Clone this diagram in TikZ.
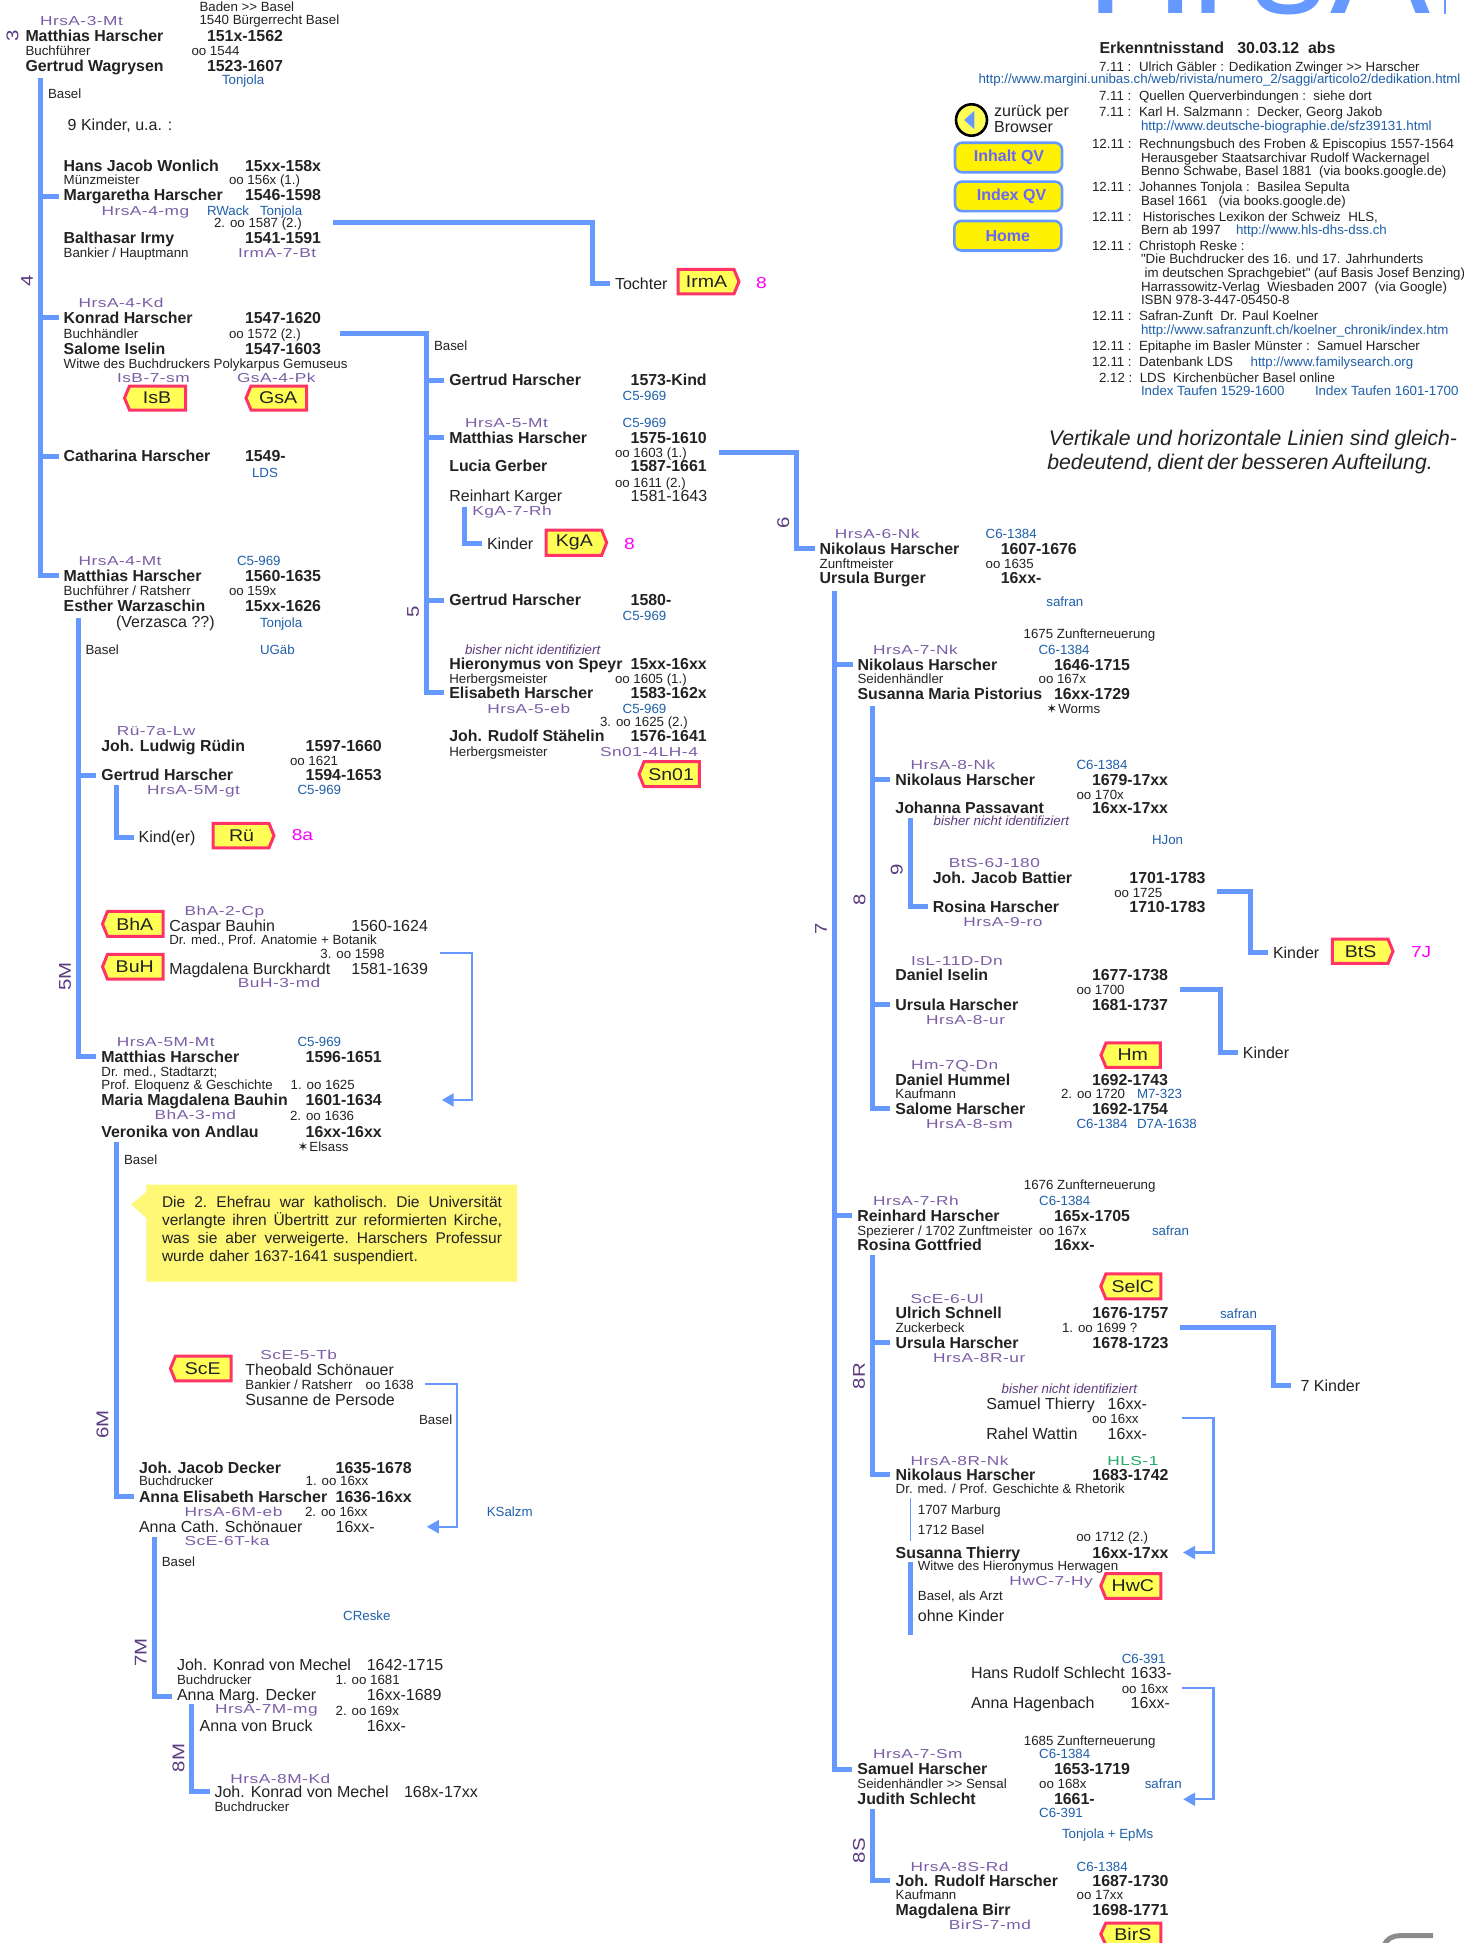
\documentclass[tikz,border=0pt]{standalone}
\usepackage{fontspec}
\setmainfont{Liberation Sans}
\newfontfamily\codefnt[FakeStretch=1.33,LetterSpace=4]{Liberation Sans}
\newfontfamily\rotfnt[FakeStretch=1.2]{Liberation Sans}
\newfontfamily\tagfnt[FakeStretch=1.15]{Liberation Sans}
\newfontfamily\djfnt{DejaVu Sans}
\newfontfamily\plainfnt{Liberation Sans}
\usetikzlibrary{arrows.meta,calc}
\definecolor{busc}{HTML}{6699FF}
\definecolor{inkc}{HTML}{222222}
\definecolor{linkc}{HTML}{1F5FAA}
\definecolor{codec}{HTML}{7B5EA7}
\definecolor{rotc}{HTML}{5B3A7E}
\definecolor{mag}{HTML}{FF00FF}
\definecolor{tagred}{HTML}{FF3366}
\definecolor{tagyel}{HTML}{FFFF55}
\definecolor{notey}{HTML}{FFF776}
\definecolor{hlsg}{HTML}{22AA66}
\definecolor{btxt}{HTML}{6666FF}
\newcount\tcnt
\newcommand\fs[1]{\fontsize{#1}{#1}\selectfont}
\tikzset{
  txt/.style={anchor=base west,inner sep=0pt,outer sep=0pt,text=inkc,yshift=-0.5pt},
  nm/.style={font=\fs{15.9}\bfseries},
  rg/.style={font=\fs{16}},
  sm/.style={font=\fs{13.3}},
  ln/.style={font=\fs{13.3},text=linkc},
  cd/.style={font=\codefnt\fs{13},text=codec},
  itp/.style={font=\fs{13.3}\itshape,text=rotc},
  mg8/.style={font=\rotfnt\fs{16},text=mag},
  rotl/.style={anchor=center,inner sep=0pt,rotate=90,font=\rotfnt\fs{17},text=rotc},
  bus/.style={draw=busc,line width=5pt,line join=miter},
  thinc/.style={draw=busc,line width=2.4pt,-{Triangle[length=12pt,width=13pt]}},
  tagb/.style={draw=tagred,fill=tagyel,line width=3pt,line join=miter},
  tagt/.style={anchor=center,inner sep=0pt,font=\tagfnt\fs{17},text=inkc},
  btn/.style={draw=busc,fill=yellow,line width=2.6pt,rounded corners=7pt,minimum width=107pt,minimum height=29.5pt,inner sep=0pt,font=\fs{16}\bfseries,text=btxt},
}
\newcommand\putt[4]{\global\advance\tcnt by 1 \node[txt,name=t\the\tcnt,#3] at (#1,#2) {#4};}
\newcommand\pbold[4][]{\putt{#2}{#3}{nm,#1}{#4}}
\newcommand\preg[4][]{\putt{#2}{#3}{rg,#1}{#4}}
\newcommand\psmall[4][]{\putt{#2}{#3}{sm,#1}{#4}}
\newcommand\plink[3]{\putt{#1}{#2}{ln}{#3}}
\newcommand\pcode[3]{\putt{#1}{#2}{cd}{#3}}
\newcommand\pital[3]{\putt{#1}{#2}{itp}{#3}}
\newcommand\pmag[3]{\putt{#1}{#2}{mg8}{#3}}
\newcommand\prot[3]{\global\advance\tcnt by 1 \node[rotl,name=t\the\tcnt] at (#1,#2) {#3};}
% name, x1,y1,x2,y2,text
\newcommand\tagL[6]{\draw[tagb] (#2,{(#3+#5)/2}) -- ({#2+5},#3) -- (#4,#3) -- (#4,#5) -- ({#2+5},#5) -- cycle;
  \node[tagt,name=#1] at ({(#2+#4)/2+2},{(#3+#5)/2}) {#6};}
\newcommand\tagR[6]{\draw[tagb] (#4,{(#3+#5)/2}) -- ({#4-5},#3) -- (#2,#3) -- (#2,#5) -- ({#4-5},#5) -- cycle;
  \node[tagt,name=#1] at ({(#2+#4)/2-2},{(#3+#5)/2}) {#6};}
\newcommand\starm{{\djfnt\fs{13}\char"2736}\kern1pt}
\newcommand\sq{{\plainfnt"}}
\newcommand\jl[1]{\leavevmode\hbox to 340pt{\frenchspacing\spaceskip=.25em plus 1fil\relax #1}}
\begin{document}
\begin{tikzpicture}[x=1pt,y=-1pt]
\useasboundingbox (0,0) rectangle (1475,1943);
\clip (0,0) rectangle (1475,1943);
\fill[white] (0,0) rectangle (1475,1943);

% ---------- title
\node[anchor=base west,inner sep=0pt,name=title,font=\fontsize{150}{150}\selectfont,text=busc] at (1086,14) {H\kern-3pt r\kern10pt s\kern4pt A};
\fill[busc] (1443.5,0) rectangle (1446,14);

% ---------- top-left family
\psmall{199.5}{11.4}{Baden >{}> Basel}
\psmall{199.5}{24.4}{1540 Bürgerrecht Basel}
\pcode{40}{25.3}{HrsA-3-Mt}
\prot{12.5}{35.4}{3}
\pbold{25.5}{40.8}{Matthias Harscher}
\pbold{207}{40.8}{151x-1562}
\psmall{25.5}{54.7}{Buchführer}
\psmall{191.5}{54.7}{oo 1544}
\pbold{25.5}{71.1}{Gertrud Wagrysen}
\pbold{207}{71.1}{1523-1607}
\plink{222}{83.8}{Tonjola}
\psmall{48}{97.6}{Basel}
\putt{67.7}{129.6}{rg}{9 Kinder, u.a. :}
\pbold{63.7}{170.9}{Hans Jacob Wonlich}
\pbold{245}{170.9}{15xx-158x}
\psmall{63.7}{184.3}{Münzmeister}
\psmall{229}{184.3}{oo 156x (1.)}
\pbold[name=mg]{63.7}{199.9}{Margaretha Harscher}
\pbold{245}{199.9}{1546-1598}
\pcode{101.5}{214.6}{HrsA-4-mg}
\plink{207}{214.6}{RWack}
\plink{260}{214.6}{Tonjola}
\psmall{214}{227.3}{2. oo 1587 (2.)}
\pbold{63.7}{242.8}{Balthasar Irmy}
\pbold{245}{242.8}{1541-1591}
\psmall{63.7}{257.2}{Bankier / Hauptmann}
\pcode{238}{257.2}{IrmA-7-Bt}
\preg[name=toch]{615}{288.7}{Tochter}
\tagR{tagirma}{678}{269.4}{739}{293.8}{IrmA}
\pmag{756}{287.9}{8}
\prot{27}{280.7}{4}
\pcode{78.6}{307.2}{HrsA-4-Kd}
\pbold[name=kh]{63.7}{322.8}{Konrad Harscher}
\pbold{245}{322.8}{1547-1620}
\psmall{63.7}{338}{Buchhändler}
\psmall{229}{338}{oo 1572 (2.)}
\pbold{63.7}{353.5}{Salome Iselin}
\pbold{245}{353.5}{1547-1603}
\psmall{63.7}{368.3}{Witwe des Buchdruckers Polykarpus Gemuseus}
\pcode{117}{382.2}{IsB-7-sm}
\pcode{237}{382.2}{GsA-4-Pk}
\tagL{tagisb}{124.5}{386}{185.5}{410}{IsB}
\tagL{taggsa}{246}{386}{306.5}{410}{GsA}
\pbold[name=ch]{63.7}{461.3}{Catharina Harscher}
\pbold{245}{461.3}{1549-}
\plink{252}{477.3}{LDS}
\pcode{78.6}{565.2}{HrsA-4-Mt}
\plink{237}{565.2}{C5-969}
\pbold[name=mh4]{63.7}{580.8}{Matthias Harscher}
\pbold{245}{580.8}{1560-1635}
\psmall{63.7}{595.1}{Buchführer / Ratsherr}
\psmall{229}{595.1}{oo 159x}
\pbold{63.7}{610.7}{Esther Warzaschin}
\pbold{245}{610.7}{15xx-1626}
\preg{116}{627.1}{(Verzasca ??)}
\plink{260}{627.1}{Tonjola}
\psmall{85.6}{653.6}{Basel}
\plink{260}{653.6}{UGäb}

% ---------- generation 5 column
\psmall{434}{350}{Basel}
\pbold[name=gh1]{449.3}{385.3}{Gertrud Harscher}
\pbold{630.7}{385.3}{1573-Kind}
\plink{622.7}{400}{C5-969}
\pcode{465}{426.7}{HrsA-5-Mt}
\plink{622.7}{426.7}{C5-969}
\pbold[name=mh5]{449.3}{442.7}{Matthias Harscher}
\pbold{630.7}{442.7}{1575-1610}
\psmall{615}{456.7}{oo 1603 (1.)}
\pbold{449.3}{471.3}{Lucia Gerber}
\pbold{630.7}{471.3}{1587-1661}
\psmall{615}{486.7}{oo 1611 (2.)}
\preg{449.3}{501.3}{Reinhart Karger}
\preg{630.7}{501.3}{1581-1643}
\pcode{472.3}{515}{KgA-7-Rh}
\preg[name=kgk]{487}{548.7}{Kinder}
\tagR{tagkga}{546}{530}{606.7}{555.3}{KgA}
\pmag{624}{548.7}{8}
\prot{413}{611.5}{5}
\prot{783.3}{522.7}{6}
\pbold[name=gh2]{449.3}{605.3}{Gertrud Harscher}
\pbold{630.7}{605.3}{1580-}
\plink{622.7}{620}{C5-969}
\pital{465}{654}{bisher nicht identifiziert}
\pbold{449.3}{669.3}{Hieronymus von Speyr}
\pbold{630.7}{669.3}{15xx-16xx}
\psmall{449.3}{682.7}{Herbergsmeister}
\psmall{615}{682.7}{oo 1605 (1.)}
\pbold[name=eh]{449.3}{698}{Elisabeth Harscher}
\pbold{630.7}{698}{1583-162x}
\pcode{487.3}{712.7}{HrsA-5-eb}
\plink{622.7}{712.7}{C5-969}
\psmall{600}{726}{3. oo 1625 (2.)}
\pbold{449.3}{741.3}{Joh. Rudolf Stähelin}
\pbold{630.7}{741.3}{1576-1641}
\psmall{449.3}{756}{Herbergsmeister}
\pcode{600}{756}{Sn01-4LH-4}
\tagL{tagsn}{639}{761.7}{699.3}{786.7}{Sn01}

% ---------- generation 5M
\pcode{116.8}{735.1}{Rü-7a-Lw}
\pbold{101.4}{750.6}{Joh. Ludwig Rüdin}
\pbold{305.7}{750.6}{1597-1660}
\psmall{290}{765.3}{oo 1621}
\pbold[name=gh5m]{101.4}{780.4}{Gertrud Harscher}
\pbold{305.7}{780.4}{1594-1653}
\pcode{147}{793.9}{HrsA-5M-gt}
\plink{297.5}{793.9}{C5-969}
\preg[name=kiner]{138.6}{841.6}{Kind(er)}
\tagR{tagru}{213}{823.3}{274}{847.8}{Rü}
\pmag{291.8}{840.4}{8a}
\pcode{184.6}{915.1}{BhA-2-Cp}
\tagL{tagbha}{102.5}{911.4}{163}{936.3}{BhA}
\preg{169.3}{931.4}{Caspar Bauhin}
\preg{351.4}{931.4}{1560-1624}
\psmall{169.3}{944.1}{Dr. med., Prof. Anatomie + Botanik}
\psmall{320.4}{958}{3. oo 1598}
\tagL{tagbuh}{102.5}{954.3}{163}{979.2}{BuH}
\preg{169.3}{974.3}{Magdalena Burckhardt}
\preg{351.4}{974.3}{1581-1639}
\pcode{237.9}{987.3}{BuH-3-md}
\prot{65}{976.3}{5M}
\pcode{116.8}{1046.1}{HrsA-5M-Mt}
\plink{297.5}{1046.1}{C5-969}
\pbold[name=mh5m]{101.4}{1062}{Matthias Harscher}
\pbold{305.7}{1062}{1596-1651}
\psmall{101.4}{1075.5}{Dr. med., Stadtarzt;}
\psmall{101.4}{1088.6}{Prof. Eloquenz \& Geschichte}
\psmall{290.7}{1088.6}{1. oo 1625}
\pbold{101.4}{1104.9}{Maria Magdalena Bauhin}
\pbold[name=d1601]{305.7}{1104.9}{1601-1634}
\pcode{154.6}{1119.2}{BhA-3-md}
\psmall{290}{1120.4}{2. oo 1636}
\pbold{101.4}{1136.7}{Veronika von Andlau}
\pbold{305.7}{1136.7}{16xx-16xx}
\psmall{297.5}{1150.6}{\starm Elsass}
\psmall{124}{1164}{Basel}

% ---------- note
\fill[notey] (146.4,1184.5) -- (517,1184.5) -- (517,1281.6) -- (146.4,1281.6) -- (146.4,1218) -- (131.4,1204.5) -- (146.4,1191.8) -- cycle;
\node[name=notetxt,anchor=north west,inner sep=0pt,text width=340pt,align=left,text=inkc,font=\fontsize{15.5}{17.9}\selectfont] at (161.8,1196.2)
 {\jl{Die 2. Ehefrau war katholisch. Die Universität}\\
  \jl{verlangte ihren Übertritt zur reformierten Kirche,}\\
  \jl{was sie aber verweigerte. Harschers Professur}\\
  wurde daher 1637-1641 suspendiert.};

% ---------- generation 6M / 7M / 8M
\tagL{tagsce}{170.4}{1356.2}{231}{1380.8}{ScE}
\pcode{260.4}{1359}{ScE-5-Tb}
\preg{245.4}{1375}{Theobald Schönauer}
\psmall{245.4}{1388.6}{Bankier / Ratsherr}
\psmall{365.7}{1388.6}{oo 1638}
\preg{245.4}{1405}{Susanne de Persode}
\psmall{419}{1424.3}{Basel}
\prot{102.5}{1424.3}{6M}
\pbold{139}{1472.6}{Joh. Jacob Decker}
\pbold{335.7}{1472.6}{1635-1678}
\psmall{139}{1485.4}{Buchdrucker}
\psmall{305.7}{1485.4}{1. oo 16xx}
\pbold[name=ae]{139}{1501.8}{Anna Elisabeth Harscher}
\pbold{335.7}{1501.8}{1636-16xx}
\pcode{184.6}{1516.1}{HrsA-6M-eb}
\psmall{305}{1516.1}{2. oo 16xx}
\plink{486.8}{1516.1}{KSalzm}
\preg{139}{1531.7}{Anna Cath. Schönauer}
\preg[name=d16a]{335.7}{1531.7}{16xx-}
\pcode{184.6}{1545.2}{ScE-6T-ka}
\psmall{161.8}{1566.1}{Basel}
\plink{343.2}{1619.9}{CReske}
\prot{140.7}{1652.7}{7M}
\preg{177}{1669.9}{Joh. Konrad von Mechel}
\preg{366.8}{1669.9}{1642-1715}
\psmall{177}{1683.8}{Buchdrucker}
\psmall{335.7}{1683.8}{1. oo 1681}
\preg[name=amd]{177}{1699.8}{Anna Marg. Decker}
\preg{366.8}{1699.8}{16xx-1689}
\pcode{215}{1713.4}{HrsA-7M-mg}
\psmall{335.7}{1715}{2. oo 169x}
\preg{199.6}{1731}{Anna von Bruck}
\preg{366.8}{1731}{16xx-}
\prot{178.6}{1758}{8M}
\pcode{230.4}{1783}{HrsA-8M-Kd}
\preg[name=jk8]{214.6}{1797}{Joh. Konrad von Mechel}
\preg{404}{1797}{168x-17xx}
\psmall{214.6}{1810.5}{Buchdrucker}

% ---------- right: sources
\pbold{1099.5}{52.7}{Erkenntnisstand~~~30.03.12~~abs}
\psmall{1099}{70.7}{7.11 :}
\psmall{1139}{70.7}{Ulrich Gäbler : Dedikation Zwinger >{}> Harscher}
\plink{978.5}{83.3}{http://www.margini.unibas.ch/web/rivista/numero\_2/saggi/articolo2/dedikation.html}
\psmall{1099}{99.7}{7.11 :}
\psmall{1139}{99.7}{Quellen Querverbindungen :~~siehe dort}
\psmall{1099}{115.7}{7.11 :}
\psmall{1139}{115.7}{Karl H. Salzmann :~~Decker, Georg Jakob}
\plink{1141}{130}{http://www.deutsche-biographie.de/sfz39131.html}
\psmall{1092}{147.7}{12.11 :}
\psmall{1139}{147.7}{Rechnungsbuch des Froben \& Episcopius 1557-1564}
\psmall{1141}{161.7}{Herausgeber Staatsarchivar Rudolf Wackernagel}
\psmall{1141}{174.7}{Benno Schwabe, Basel 1881~~(via books.google.de)}
\psmall{1092}{190.7}{12.11 :}
\psmall{1139}{190.7}{Johannes Tonjola :~~Basilea Sepulta}
\psmall{1141}{205}{Basel 1661~~~(via books.google.de)}
\psmall{1092}{220.7}{12.11 :}
\psmall{1142.8}{220.7}{Historisches Lexikon der Schweiz~~HLS,}
\psmall{1141}{234}{Bern ab 1997}
\plink{1236}{234}{http://www.hls-dhs-dss.ch}
\psmall{1092}{250}{12.11 :}
\psmall{1139}{250}{Christoph Reske :}
\psmall{1141}{263.3}{\sq Die Buchdrucker des 16. und 17. Jahrhunderts}
\psmall{1144.6}{276.7}{im deutschen Sprachgebiet\sq{} (auf Basis Josef Benzing)}
\psmall{1141}{290.7}{Harrassowitz-Verlag~~Wiesbaden 2007~~(via Google)}
\psmall{1141}{303.7}{ISBN 978-3-447-05450-8}
\psmall{1092}{319.7}{12.11 :}
\psmall{1139}{319.7}{Safran-Zunft~~Dr. Paul Koelner}
\plink{1141}{333.7}{http://www.safranzunft.ch/koelner\_chronik/index.htm}
\psmall{1092}{349.7}{12.11 :}
\psmall{1139}{349.7}{Epitaphe im Basler Münster :~~Samuel Harscher}
\psmall{1092}{365.7}{12.11 :}
\psmall{1139}{365.7}{Datenbank LDS}
\plink{1250.6}{365.7}{http://www.familysearch.org}
\psmall{1099}{381.7}{2.12 :}
\psmall{1139.8}{381.7}{LDS~~Kirchenbücher Basel online}
\plink{1141}{394.7}{Index Taufen 1529-1600}
\plink{1315}{394.7}{Index Taufen 1601-1700}
\putt{1048.9}{445.3}{rg,font=\fs{21.2}\itshape}{Vertikale und horizontale Linien sind gleich-}
\putt{1047.4}{469.3}{rg,font=\fs{21.2}\itshape}{\spaceskip=.18em bedeutend, dient der besseren Aufteilung.}

% ---------- navigation
\draw[black,line width=2.6pt,fill=tagyel] (971.5,120) ellipse [x radius=15.5pt,y radius=15.7pt];
\fill[busc] (964.2,120) -- (974.4,110.7) -- (974.4,129.3) -- cycle;
\preg{994.2}{115.7}{zurück per}
\preg{994.2}{131.7}{Browser}
\node[btn,name=btninhalt] at (1008.5,157.5) {\hspace*{1pt}Inhalt QV};
\node[btn,name=btnindex] at (1008.5,196.4) {\hspace*{6pt}Index QV};
\node[btn,name=btnhome] at (1007.8,235.7) {Home};

% ---------- generation 6 / 7 / 8 (right tree)
\pcode{834.8}{537.9}{HrsA-6-Nk}
\plink{985.7}{537.9}{C6-1384}
\pbold[name=nh6]{819.7}{553.9}{Nikolaus Harscher}
\pbold{1000.8}{553.9}{1607-1676}
\psmall{819.7}{568.2}{Zunftmeister}
\psmall{985.7}{568.2}{oo 1635}
\pbold{819.7}{582.9}{Ursula Burger}
\pbold{1000.8}{582.9}{16xx-}
\plink{1046.4}{605.6}{safran}
\psmall{1023.6}{638}{1675 Zunfterneuerung}
\pcode{873}{653.6}{HrsA-7-Nk}
\plink{1038.6}{653.6}{C6-1384}
\pbold[name=nh7]{857.6}{670}{Nikolaus Harscher}
\pbold{1054}{670}{1646-1715}
\psmall{857.6}{683.1}{Seidenhändler}
\psmall{1038.6}{683.1}{oo 167x}
\pbold{857.6}{698.7}{Susanna Maria Pistorius}
\pbold{1054}{698.7}{16xx-1729}
\psmall{1046.4}{712.5}{\starm Worms}
\pcode{910.5}{769.4}{HrsA-8-Nk}
\plink{1076.5}{769.4}{C6-1384}
\pbold[name=nh8]{895.4}{784.9}{Nikolaus Harscher}
\pbold{1092}{784.9}{1679-17xx}
\psmall{1076.5}{798.8}{oo 170x}
\pbold{895.4}{812.7}{Johanna Passavant}
\pbold{1092}{812.7}{16xx-17xx}
\pital{933.7}{825.3}{bisher nicht identifiziert}
\plink{1152}{843.9}{HJon}
\pcode{948.8}{867.4}{BtS-6J-180}
\pbold{932.8}{883}{Joh. Jacob Battier}
\pbold{1129.4}{883}{1701-1783}
\psmall{1114.3}{896.9}{oo 1725}
\pbold[name=rs9]{932.8}{912}{Rosina Harscher}
\pbold{1129.4}{912}{1710-1783}
\pcode{963.4}{925.9}{HrsA-9-ro}
\prot{896.8}{869.5}{9}
\prot{859.4}{899.8}{8}
\prot{821}{928.5}{7}
\preg[name=kd1]{1273}{957.9}{Kinder}
\tagR{tagbts}{1332.3}{939}{1393}{963.4}{BtS}
\pmag{1411}{956.6}{7J}
\pcode{911}{965.1}{IsL-11D-Dn}
\pbold{895.4}{979.8}{Daniel Iselin}
\pbold{1092}{979.8}{1677-1738}
\psmall{1076.5}{994.1}{oo 1700}
\pbold[name=uh8]{895.4}{1009.7}{Ursula Harscher}
\pbold{1092}{1009.7}{1681-1737}
\pcode{926}{1024}{HrsA-8-ur}
\preg[name=kd2]{1242.9}{1057.7}{Kinder}
\tagL{taghm}{1101}{1042.9}{1160.4}{1067.3}{Hm}
\pcode{911}{1069}{Hm-7Q-Dn}
\pbold{895.4}{1085}{Daniel Hummel}
\pbold{1092}{1085}{1692-1743}
\psmall{895.4}{1098}{Kaufmann}
\psmall{1061}{1098}{2. oo 1720}
\plink{1137}{1098}{M7-323}
\pbold[name=sl8]{895.4}{1114}{Salome Harscher}
\pbold{1092}{1114}{1692-1754}
\pcode{926}{1127.9}{HrsA-8-sm}
\plink{1076.5}{1127.9}{C6-1384}
\plink{1137}{1127.9}{D7A-1638}

\psmall{1023.9}{1189}{1676 Zunfterneuerung}
\pcode{873}{1204.9}{HrsA-7-Rh}
\plink{1039.2}{1204.9}{C6-1384}
\pbold[name=rh7]{857.4}{1220.9}{Reinhard Harscher}
\pbold{1054}{1220.9}{165x-1705}
\psmall{857.4}{1234.9}{Spezierer / 1702 Zunftmeister}
\psmall{1039.2}{1234.9}{oo 167x}
\plink{1152}{1234.9}{safran}
\pbold{857.4}{1249.9}{Rosina Gottfried}
\pbold{1054}{1249.9}{16xx-}
\tagL{tagselc}{1100.8}{1273.9}{1160.9}{1298.8}{SelC}
\pcode{910.6}{1302.8}{ScE-6-Ul}
\pbold{895.7}{1317.8}{Ulrich Schnell}
\pbold{1092.4}{1317.8}{1676-1757}
\plink{1220}{1317.8}{safran}
\psmall{895.7}{1331.8}{Zuckerbeck}
\psmall{1062}{1331.8}{1. oo 1699 ?}
\pbold[name=uh8r]{895.7}{1347.8}{Ursula Harscher}
\pbold{1092.4}{1347.8}{1678-1723}
\pcode{933.2}{1362.2}{HrsA-8R-ur}
\preg[name=kd3]{1300.6}{1391.2}{7 Kinder}
\pital{1001.7}{1393.2}{bisher nicht identifiziert}
\preg{986.4}{1408.7}{Samuel Thierry}
\preg{1107.7}{1408.7}{16xx-}
\psmall{1092}{1423.2}{oo 16xx}
\preg{986.4}{1438.7}{Rahel Wattin}
\preg{1107.7}{1438.7}{16xx-}
\pcode{910.6}{1464.6}{HrsA-8R-Nk}
\putt{1107.3}{1464.6}{cd,text=hlsg}{HLS-1}
\pbold[name=nh8r]{895.7}{1479.6}{Nikolaus Harscher}
\pbold{1092.4}{1479.6}{1683-1742}
\psmall{895.7}{1493.1}{Dr. med. / Prof. Geschichte \& Rhetorik}
\psmall{917.9}{1514}{1707 Marburg}
\psmall{917.9}{1534}{1712 Basel}
\psmall{1076.3}{1541}{oo 1712 (2.)}
\pbold{895.7}{1557.5}{Susanna Thierry}
\pbold[name=d16b]{1092.4}{1557.5}{16xx-17xx}
\psmall{917.9}{1570}{Witwe des Hieronymus Herwagen}
\pcode{1009.3}{1584.5}{HwC-7-Hy}
\tagL{taghwc}{1100.8}{1573.5}{1160.9}{1598.4}{HwC}
\psmall{917.9}{1600}{Basel, als Arzt}
\preg{917.9}{1621.4}{ohne Kinder}
\plink{1121.8}{1662.9}{C6-391}
\preg{971}{1678.4}{Hans Rudolf Schlecht}
\preg{1130.7}{1678.4}{1633-}
\psmall{1121.8}{1692.8}{oo 16xx}
\preg{971}{1708.3}{Anna Hagenbach}
\preg{1130.7}{1708.3}{16xx-}
\psmall{1023.9}{1744.8}{1685 Zunfterneuerung}
\pcode{873}{1758.2}{HrsA-7-Sm}
\plink{1039.2}{1758.2}{C6-1384}
\pbold[name=sh7]{857.4}{1774.2}{Samuel Harscher}
\pbold{1054}{1774.2}{1653-1719}
\psmall{857.4}{1788.2}{Seidenhändler >{}> Sensal}
\psmall{1039.2}{1788.2}{oo 168x}
\plink{1144.8}{1788.2}{safran}
\pbold{857.4}{1804.2}{Judith Schlecht}
\pbold[name=d1661]{1054}{1804.2}{1661-}
\plink{1039.2}{1817.2}{C6-391}
\plink{1062}{1838.2}{Tonjola + EpMs}
\prot{859}{1850.6}{8S}
\prot{859}{1376.2}{8R}
\pcode{910.6}{1870.6}{HrsA-8S-Rd}
\plink{1076.7}{1870.6}{C6-1384}
\pbold[name=jr8]{895.7}{1886}{Joh. Rudolf Harscher}
\pbold{1092.4}{1886}{1687-1730}
\psmall{895.7}{1899}{Kaufmann}
\psmall{1076.7}{1899}{oo 17xx}
\pbold{895.7}{1915}{Magdalena Birr}
\pbold{1092.4}{1915}{1698-1771}
\pcode{948.9}{1929}{BirS-7-md}
\tagL{tagbirs}{1100.8}{1923}{1160.9}{1945}{BirS}

% ---------- connectors
\coordinate (b4) at (40.3,77.9);
\draw[bus] (b4) |- ([xshift=-4.7pt]mh4.west);
\foreach \n in {mg,kh,ch} \draw[bus] (b4 |- \n.west) -- ([xshift=-4.7pt]\n.west);
\coordinate (c1) at (333,222.6); \coordinate (c1k) at (592.5,222.6);
\draw[bus] (c1) -- (c1k) |- ([xshift=-5pt]toch.west);
\coordinate (c5) at (340,333.8); \coordinate (c5k) at (426,333.8);
\draw[bus] (c5) -- (c5k) |- ([xshift=-5pt]eh.west);
\foreach \n in {gh1,mh5,gh2} \draw[bus] (c5k |- \n.west) -- ([xshift=-5pt]\n.west);
\coordinate (c6) at (718.7,452); \coordinate (c6k) at (796.7,452);
\draw[bus] (c6) -- (c6k) |- ([xshift=-5pt]nh6.west);
\coordinate (lk) at (464,506.7);
\draw[bus] (lk) |- ([xshift=-5pt]kgk.west);
\coordinate (b5m) at (78.3,617.8);
\draw[bus] (b5m) |- ([xshift=-5pt]mh5m.west);
\draw[bus] (b5m |- gh5m.west) -- ([xshift=-5pt]gh5m.west);
\coordinate (lr) at (116,785.3);
\draw[bus] (lr) |- ([xshift=-4.6pt]kiner.west);
\coordinate (b6m) at (116,1141.6);
\draw[bus] (b6m) |- ([xshift=-5pt]ae.west);
\coordinate (b7m) at (154.3,1536.6);
\draw[bus] (b7m) |- ([xshift=-5pt]amd.west);
\coordinate (b8m) at (191.8,1703.9);
\draw[bus] (b8m) |- ([xshift=-5pt]jk8.west);
\coordinate (b7) at (834.6,590.5);
\draw[bus] (b7) |- ([xshift=-5pt]sh7.west);
\foreach \n in {nh7,rh7} \draw[bus] (b7 |- \n.west) -- ([xshift=-5pt]\n.west);
\coordinate (b8) at (872.2,706.2);
\draw[bus] (b8) |- ([xshift=-5.4pt]sl8.west);
\foreach \n in {nh8,uh8} \draw[bus] (b8 |- \n.west) -- ([xshift=-5.4pt]\n.west);
\coordinate (b9) at (910.5,817.8);
\draw[bus] (b9) |- ([xshift=-4.8pt]rs9.west);
\coordinate (b8r) at (872.3,1254.9);
\draw[bus] (b8r) |- ([xshift=-5.4pt]nh8r.west);
\draw[bus] (b8r |- uh8r.west) -- ([xshift=-5.4pt]uh8r.west);
\coordinate (b8s) at (872.3,1809.2);
\draw[bus] (b8s) |- ([xshift=-5.4pt]jr8.west);
\coordinate (c7) at (1217.4,891.8); \coordinate (c7k) at (1250.2,891.8);
\draw[bus] (c7) -- (c7k) |- ([xshift=-5pt]kd1.west);
\coordinate (c8) at (1180,989.5); \coordinate (c8k) at (1220.6,989.5);
\draw[bus] (c8) -- (c8k) |- ([xshift=-5pt]kd2.west);
\coordinate (c9) at (1179.6,1327.3); \coordinate (c9k) at (1273.4,1327.3);
\draw[bus] (c9) -- (c9k) |- ([xshift=-9.6pt]kd3.west);
% thin arrows
\coordinate (a1) at (440,953); \coordinate (a1k) at (472,953);
\draw[thinc] (a1) -- (a1k) |- ([xshift=60pt]d1601.east);
\coordinate (a2) at (425,1384); \coordinate (a2k) at (456.8,1384);
\draw[thinc] (a2) -- (a2k) |- ([xshift=52pt]d16a.east);
\coordinate (a3) at (1181.6,1418.2); \coordinate (a3k) at (1213.3,1418.2);
\draw[thinc] (a3) -- (a3k) |- ([xshift=14.6pt]d16b.east);
\coordinate (a4) at (1181.6,1687.8); \coordinate (a4k) at (1213.3,1687.8);
\draw[thinc] (a4) -- (a4k) |- ([xshift=88.5pt]d1661.east);
% bars next to Nikolaus / Susanna
\draw[busc,line width=1.2pt] (910.2,1498) -- (910.2,1540.5);
\draw[bus] (910.2,1562) -- (910.2,1635.4);
% grey curve bottom right
\draw[draw=gray!90,line width=5pt] (1433,1935.7) -- (1400,1935.7) .. controls (1392,1935.7) and (1387,1939) .. (1384,1945);
\end{tikzpicture}
\end{document}
